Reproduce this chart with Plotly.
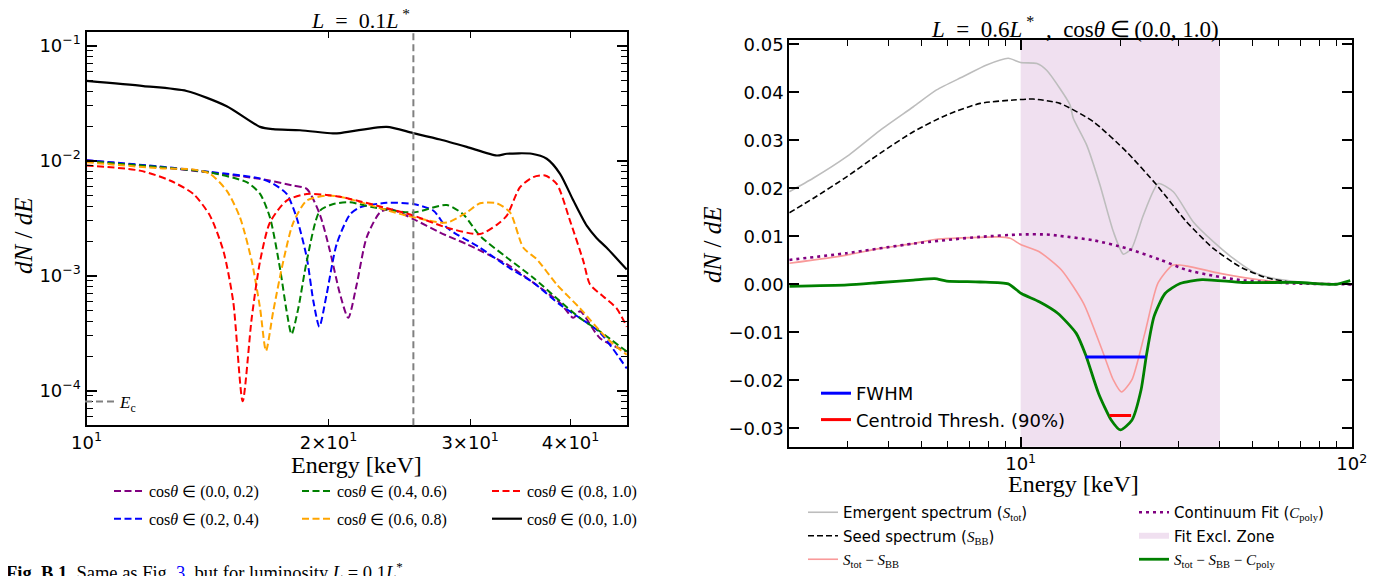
import plotly.graph_objects as go

# ---------------- Left panel data (L = 0.1 L*) ----------------
E_C = 25.5

tot_E = [10.0, 11.77, 13.32, 14.94, 16.44, 17.06, 18.43, 20.25, 20.67, 23.62, 25.47, 27.53, 29.71,
         32.38, 33.32, 35.79, 37.36, 38.81, 40.32, 41.89, 43.11, 44.36, 46.98]
tot_V = [0.0494, 0.0446, 0.0404, 0.0298, 0.0197, 0.0188, 0.0184, 0.0173, 0.0174, 0.0197, 0.0174, 0.0153,
         0.0132, 0.0111, 0.0115, 0.0115, 0.0104, 0.0077, 0.0045, 0.00272, 0.00212, 0.00175, 0.00113]

c00_E = [10.0, 12.34, 14.24, 16.44, 18.08, 18.79, 19.51, 20.08, 20.67, 21.16, 21.68, 22.31, 23.18, 23.85,
         25.50, 27.53, 29.71, 33.32, 35.95, 38.81, 40.32, 41.10, 43.52, 46.98]
c00_V = [0.0101, 0.0088, 0.0079, 0.00695, 0.00608, 0.00569, 0.0034, 0.00164, 0.00069, 0.00043, 0.00084,
         0.00216, 0.00355, 0.0038, 0.00311, 0.00237, 0.00188, 0.00126, 0.00087, 0.00058, 0.00043, 0.00049,
         0.000286, 0.000219]

c02_E = [10.0, 12.34, 14.24, 16.44, 17.07, 17.74, 18.25, 18.79, 19.15, 19.48, 19.89, 20.47, 21.26, 21.88,
         23.62, 25.50, 27.01, 28.06, 30.86, 33.32, 35.95, 38.81, 41.10, 43.52, 46.98]
c02_V = [0.0101, 0.0089, 0.0080, 0.0070, 0.0063, 0.00514, 0.00321, 0.00144, 0.0006, 0.00036, 0.000686,
         0.00188, 0.0034, 0.00393, 0.0043, 0.0042, 0.00367, 0.00262, 0.00175, 0.00121, 0.00087, 0.00056,
         0.000428, 0.00032, 0.000156]

c04_E = [10.0, 12.34, 14.24, 15.82, 16.44, 16.91, 17.40, 17.74, 17.99, 18.34, 18.79, 19.51, 20.28, 21.26,
         22.73, 25.50, 28.06, 29.43, 30.86, 33.32, 35.95, 38.81, 41.10, 43.52, 46.98]
c04_V = [0.0099, 0.0088, 0.0079, 0.0065, 0.00514, 0.00321, 0.00117, 0.00049, 0.00031, 0.00052, 0.00134,
         0.00367, 0.0042, 0.00435, 0.00393, 0.00355, 0.00412, 0.0034, 0.00222, 0.00144, 0.00096, 0.0006,
         0.000428, 0.000327, 0.000219]

c06_E = [10.0, 12.34, 13.58, 14.24, 14.94, 15.52, 16.05, 16.44, 16.72, 17.07, 17.57, 18.08, 18.79, 19.89,
         20.67, 25.02, 28.06, 29.71, 30.86, 32.38, 33.63, 34.94, 36.31, 38.44, 41.10, 44.36, 46.98]
c06_V = [0.0097, 0.0086, 0.0084, 0.0077, 0.0055, 0.00321, 0.00134, 0.00052, 0.000222, 0.00049, 0.00134,
         0.0029, 0.0045, 0.00497, 0.00487, 0.00333, 0.0029, 0.00355, 0.00426, 0.00426, 0.00355, 0.00175,
         0.00139, 0.00084, 0.00052, 0.000286, 0.000205]

c08_E = [10.0, 11.65, 12.70, 13.58, 14.24, 14.80, 15.22, 15.64, 16.05, 16.44, 16.91, 17.74, 18.79, 19.89,
         20.67, 23.85, 25.50, 28.06, 30.86, 32.38, 33.32, 34.61, 35.95, 37.18, 38.44, 39.94, 41.49, 42.29,
         43.93, 45.64, 46.98]
c08_V = [0.0091, 0.0082, 0.00673, 0.00514, 0.00333, 0.00164, 0.0006, 0.000081, 0.000428, 0.00134, 0.0029,
         0.0045, 0.00514, 0.00504, 0.00487, 0.0038, 0.00333, 0.00262, 0.0023, 0.00277, 0.00333, 0.00588,
         0.0072, 0.00743, 0.0063, 0.003, 0.00134, 0.00084, 0.00066, 0.00052, 0.00036]

left_series = [
    ("cos<i>θ</i> ∈ (0.0, 0.2)", c00_E, c00_V, "#800080", "legend2"),
    ("cos<i>θ</i> ∈ (0.2, 0.4)", c02_E, c02_V, "#0000ff", "legend2"),
    ("cos<i>θ</i> ∈ (0.4, 0.6)", c04_E, c04_V, "#008000", "legend3"),
    ("cos<i>θ</i> ∈ (0.6, 0.8)", c06_E, c06_V, "#ffa500", "legend3"),
    ("cos<i>θ</i> ∈ (0.8, 1.0)", c08_E, c08_V, "#ff0000", "legend4"),
]

left_yticks = [1e-4, 1e-3, 1e-2, 1e-1]
left_ytext = ["10<sup>−4</sup>", "10<sup>−3</sup>", "10<sup>−2</sup>", "10<sup>−1</sup>"]
left_xticks = [10, 20, 30, 40]
left_xtext = ["10<sup>1</sup>", "2×10<sup>1</sup>", "3×10<sup>1</sup>", "4×10<sup>1</sup>"]

# ---------------- Right panel data (L = 0.6 L*) ----------------
EXCL_LO, EXCL_HI = 10.0, 40.0

emg_E = [2.0, 2.36, 2.98, 3.76, 4.74, 5.57, 6.71, 7.89, 9.17, 10.0, 11.2, 11.98, 13.14, 14.09, 14.42, 15.83,
         17.36, 19.05, 20.42, 21.64, 23.47, 26.05, 28.91, 33.23, 38.18, 43.89, 50.43, 57.96, 69.8, 84.0, 100.0]
emg_V = [0.0193, 0.0221, 0.0266, 0.0321, 0.037, 0.0405, 0.0433, 0.0457, 0.0471, 0.0462, 0.046, 0.0446,
         0.0408, 0.0374, 0.0346, 0.029, 0.0207, 0.011, 0.0063, 0.0075, 0.0144, 0.021, 0.0193, 0.013, 0.0089,
         0.0054, 0.0026, 0.00125, 0.0005, 0.0002, 0.0001]

seed_E = [2.0, 2.36, 2.98, 3.76, 4.74, 5.98, 7.54, 9.5, 10.9, 13.14, 16.57, 20.9, 25.76, 31.73, 38.18,
          45.98, 55.36, 66.6, 80.0, 100.0]
seed_V = [0.0149, 0.0179, 0.0224, 0.0273, 0.0318, 0.0353, 0.0377, 0.0384, 0.0386, 0.0377, 0.0339, 0.0276,
          0.0207, 0.013, 0.0075, 0.00367, 0.00138, 0.0004, 0.0001, 0.0]

diff_E = [2.0, 2.98, 3.76, 4.74, 5.57, 6.71, 8.5, 9.3, 10.0, 11.38, 13.28, 15.5, 17.63, 19.05, 20.16, 21.67,
          23.71, 25.96, 28.77, 31.89, 40.0, 53.4, 69.0, 100.0]
diff_V = [0.0044, 0.0061, 0.0075, 0.0085, 0.0094, 0.0097, 0.0099, 0.0096, 0.0083, 0.0068, 0.003, -0.004,
          -0.0137, -0.0199, -0.0224, -0.0199, -0.0102, 0.0002, 0.004, 0.0038, 0.0023, 0.0009, 0.0003, 0.0001]

cont_E = [2.0, 2.98, 4.74, 7.54, 10.0, 12.0, 13.14, 16.57, 20.9, 26.5, 31.73, 38.18, 45.98, 55.36, 66.6, 100.0]
cont_V = [0.0051, 0.0065, 0.0085, 0.0099, 0.0104, 0.0104, 0.0101, 0.0092, 0.0075, 0.0051, 0.003, 0.0018,
          0.0009, 0.0005, 0.0002, 0.0]

res_E = [2.0, 3.0, 3.76, 4.74, 5.5, 5.98, 7.54, 9.17, 10.05, 11.38, 12.94, 14.72, 15.72, 17.19, 18.79, 20.0,
         21.67, 23.1, 23.99, 25.28, 27.3, 30.3, 35.3, 46.9, 69.0, 89.0, 99.0]
res_V = [-0.0004, -0.0001, 0.0004, 0.0009, 0.0012, 0.0007, 0.0005, 0.0001, -0.0019, -0.0036, -0.006, -0.0102,
         -0.0147, -0.0227, -0.0283, -0.0303, -0.0283, -0.022, -0.0147, -0.0067, -0.0019, 0.0002, 0.001,
         0.0004, 0.0004, 0.0, 0.0008]

FWHM_E = [15.72, 23.84]
FWHM_LEVEL = -0.0151
CENT_E = [18.56, 21.56]
CENT_LEVEL = -0.0273

right_yticks = [-0.03, -0.02, -0.01, 0.0, 0.01, 0.02, 0.03, 0.04, 0.05]
right_xticks = [10, 100]
right_xtext = ["10<sup>1</sup>", "10<sup>2</sup>"]

# ---------------- Figure ----------------
# The page body has an 8 px margin: the figure is sized to fit the 1387x576 window exactly,
# and positions below are given in window pixels.
OFF = 8
FW, FH = 1387 - OFF, 576 - OFF
SERIF = "Liberation Serif"
SANS = "DejaVu Sans"
ZONE_FILL = "rgba(128,0,128,0.12)"


def px(xp):
    return (xp - OFF) / FW


def py(yp):
    return 1 - (yp - OFF) / FH


fig = go.Figure()

for name, xs, ys, col, lg in left_series:
    fig.add_trace(go.Scatter(x=xs, y=ys, mode="lines", name=name, legend=lg, legendgroup=name,
                             line=dict(color=col, width=2, dash="7px,3.5px", shape="spline", smoothing=0.7),
                             xaxis="x", yaxis="y"))
fig.add_trace(go.Scatter(x=tot_E, y=tot_V, mode="lines", name="cos<i>θ</i> ∈ (0.0, 1.0)", legend="legend4",
                         legendgroup="tot", line=dict(color="black", width=2.2, shape="spline", smoothing=0.7),
                         xaxis="x", yaxis="y"))
# legend entry for the E_c marker line (the line itself is a shape)
fig.add_trace(go.Scatter(x=[None], y=[None], mode="lines", name="<i>E</i><sub>c</sub>", legend="legend",
                         line=dict(color="#808080", width=2, dash="7px,4px"), xaxis="x", yaxis="y"))

# Right traces
fig.add_trace(go.Scatter(x=emg_E, y=emg_V, mode="lines", legend="legend6", legendgroup="emg", legendrank=1,
                         name="Emergent spectrum (<span style='font-family:Liberation Serif'><i>S</i><sub>tot</sub></span>)",
                         line=dict(color="#bdbdbd", width=1.6, shape="spline", smoothing=0.6),
                         xaxis="x2", yaxis="y2"))
fig.add_trace(go.Scatter(x=seed_E, y=seed_V, mode="lines", legend="legend6", legendgroup="seed", legendrank=2,
                         name="Seed spectrum (<span style='font-family:Liberation Serif'><i>S</i><sub>BB</sub></span>)",
                         line=dict(color="black", width=1.6, dash="6px,3px", shape="spline", smoothing=0.6),
                         xaxis="x2", yaxis="y2"))
fig.add_trace(go.Scatter(x=diff_E, y=diff_V, mode="lines", legend="legend6", legendgroup="diff", legendrank=3,
                         name="<span style='font-family:Liberation Serif'><i>S</i><sub>tot</sub> − <i>S</i><sub>BB</sub></span>",
                         line=dict(color="#f99a9a", width=1.6, shape="spline", smoothing=0.6),
                         xaxis="x2", yaxis="y2"))
fig.add_trace(go.Scatter(x=cont_E, y=cont_V, mode="lines", legend="legend7", legendgroup="cont", legendrank=1,
                         name="Continuum Fit (<span style='font-family:Liberation Serif'><i>C</i><sub>poly</sub></span>)",
                         line=dict(color="#800080", width=2.6, dash="3px,4px", shape="spline", smoothing=0.6),
                         xaxis="x2", yaxis="y2"))
fig.add_trace(go.Scatter(x=[None], y=[None], mode="none", fill="toself", fillcolor=ZONE_FILL,
                         legend="legend7", legendgroup="zone", legendrank=2, name="Fit Excl. Zone",
                         xaxis="x2", yaxis="y2"))
fig.add_trace(go.Scatter(x=res_E, y=res_V, mode="lines", legend="legend7", legendgroup="res", legendrank=3,
                         name="<span style='font-family:Liberation Serif'><i>S</i><sub>tot</sub> − <i>S</i><sub>BB</sub> − <i>C</i><sub>poly</sub></span>",
                         line=dict(color="#008000", width=2.8, shape="spline", smoothing=0.6),
                         xaxis="x2", yaxis="y2"))
fig.add_trace(go.Scatter(x=FWHM_E, y=[FWHM_LEVEL] * len(FWHM_E), mode="lines", name="FWHM", legend="legend5",
                         legendgroup="fwhm", line=dict(color="#0000ff", width=3), xaxis="x2", yaxis="y2"))
fig.add_trace(go.Scatter(x=CENT_E, y=[CENT_LEVEL] * len(CENT_E), mode="lines", name="Centroid Thresh. (90%)",
                         legend="legend5", legendgroup="cent", line=dict(color="#ff0000", width=3),
                         xaxis="x2", yaxis="y2"))

# Shapes
fig.add_shape(type="rect", xref="x2", yref="y2 domain", x0=EXCL_LO, x1=EXCL_HI, y0=0, y1=1,
              fillcolor=ZONE_FILL, line=dict(width=0), layer="below")
fig.add_shape(type="line", xref="x", yref="y domain", x0=E_C, x1=E_C, y0=0, y1=1,
              line=dict(color="#808080", width=2, dash="7px,4px"), layer="above")

axis_common = dict(showline=True, linecolor="black", linewidth=2, mirror="allticks", ticks="inside",
                   tickcolor="black", showgrid=False, zeroline=False, automargin=False,
                   tickfont=dict(family=SANS, size=18, color="black"))

fig.update_layout(
    template="none",
    width=FW, height=FH, margin=dict(l=0, r=0, t=0, b=0, autoexpand=False),
    paper_bgcolor="white", plot_bgcolor="white", showlegend=True,
    xaxis=dict(axis_common, type="log", range=[1, 1.6726], domain=[px(86.5), px(627.3)], anchor="y",
               tickvals=left_xticks, ticktext=left_xtext, ticklen=6, tickwidth=1.2),
    yaxis=dict(axis_common, type="log", range=[-4.301, -0.878], domain=[py(425.3), py(31.7)], anchor="x",
               tickvals=left_yticks, ticktext=left_ytext, ticklen=10, tickwidth=2,
               minor=dict(tickvals=[m * 10 ** k for k in (-5, -4, -3, -2, -1) for m in range(2, 10)],
                          ticklen=6, tickwidth=1, ticks="inside", tickcolor="black")),
    xaxis2=dict(axis_common, type="log", range=[0.30103, 2], domain=[px(789.3), px(1351.7)], anchor="y2",
                tickvals=right_xticks, ticktext=right_xtext, ticklen=10, tickwidth=2,
                minor=dict(tickvals=[m * 10 ** k for k in (0, 1) for m in range(2, 10)],
                           ticklen=6, tickwidth=1, ticks="inside", tickcolor="black")),
    yaxis2=dict(axis_common, range=[-0.0338, 0.0509], domain=[py(446.7), py(40)], anchor="x2",
                tickvals=right_yticks, ticktext=[("−" if v < 0 else "") + f"{abs(v):.2f}" for v in right_yticks],
                ticklen=10, tickwidth=2),
)

leg_common = dict(bgcolor="rgba(0,0,0,0)", borderwidth=0, orientation="v", xanchor="left", yanchor="top",
                  traceorder="grouped")
fig.update_layout(
    legend=dict(leg_common, x=px(80), y=py(384), font=dict(family=SERIF, size=17, color="black")),
    legend2=dict(leg_common, x=px(109), y=py(474), tracegroupgap=4, font=dict(family=SERIF, size=16, color="black")),
    legend3=dict(leg_common, x=px(297), y=py(474), tracegroupgap=4, font=dict(family=SERIF, size=16, color="black")),
    legend4=dict(leg_common, x=px(487), y=py(474), tracegroupgap=4, font=dict(family=SERIF, size=16, color="black")),
    legend5=dict(leg_common, x=px(816), y=py(375), tracegroupgap=0, font=dict(family=SANS, size=18, color="black")),
    legend6=dict(leg_common, x=px(803), y=py(496), tracegroupgap=1, font=dict(family=SANS, size=15, color="black")),
    legend7=dict(leg_common, x=px(1134), y=py(496), tracegroupgap=1, font=dict(family=SANS, size=15, color="black")),
)

# Titles and axis labels
ann = [
    dict(text="<i>L</i>\u2002=\u20020.1<i>L</i><sup> *</sup>", x=px(360), y=py(19), font=dict(family=SERIF, size=22)),
    dict(text="<i>L</i>\u2002=\u20020.6<i>L</i><sup> *</sup>  ,  cos<i>θ</i>\u2009∈\u2009(0.0, 1.0)", x=px(1075), y=py(27),
         font=dict(family=SERIF, size=23)),
    dict(text="Energy [keV]", x=px(356), y=py(465), font=dict(family=SERIF, size=24)),
    dict(text="Energy [keV]", x=px(1073), y=py(484), font=dict(family=SERIF, size=24)),
    dict(text="<i>dN</i> / <i>dE</i>", x=px(23), y=py(236), textangle=-90, font=dict(family=SERIF, size=25)),
    dict(text="<i>dN</i> / <i>dE</i>", x=px(713), y=py(245), textangle=-90, font=dict(family=SERIF, size=25)),
]
for a in ann:
    fig.add_annotation(xref="paper", yref="paper", showarrow=False, xanchor="center", yanchor="middle",
                       font=dict(a["font"], color="black"), **{k: v for k, v in a.items() if k != "font"})

fig.add_annotation(xref="paper", yref="paper", showarrow=False, xanchor="left", yanchor="top",
                   x=px(4), y=py(557),
                   text="<b>Fig. B.1.</b> Same as Fig. <span style='color:#0000ff'>3</span>, but for luminosity "
                        "<i>L</i> = 0.1<i>L</i><sup>*</sup>.",
                   font=dict(family=SERIF, size=18.5, color="black"))

fig.write_html("out.html")
